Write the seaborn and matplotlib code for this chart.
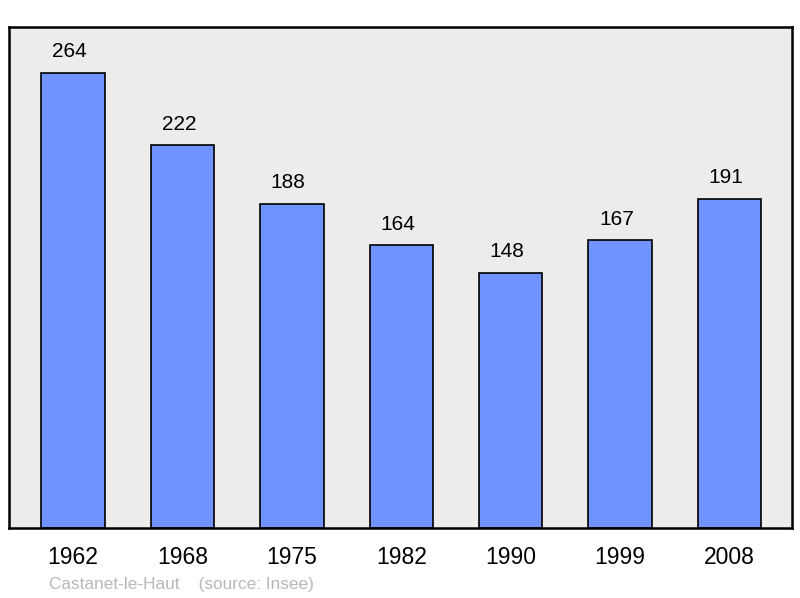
import matplotlib
matplotlib.use("Agg")
import matplotlib.pyplot as plt
import seaborn as sns
import pandas as pd

years = ['1962', '1968', '1975', '1982', '1990', '1999', '2008']
population = [264, 222, 188, 164, 148, 167, 191]

df = pd.DataFrame({'year': years, 'pop': population})

sns.set_style("white")
plt.rcParams['font.family'] = ['Liberation Sans', 'DejaVu Sans']

fig = plt.figure(figsize=(8, 5.98), dpi=100)
ax = fig.add_axes([0.01125, 0.117, 0.979, 0.838])
ax.set_facecolor('#ececec')

sns.barplot(data=df, x='year', y='pop', color='#7093ff', saturation=1,
            edgecolor='black', linewidth=1.2, width=0.58, ax=ax)

# value labels above each bar (sit a little left of centre in the original)
for i, v in enumerate(population):
    ax.text(i - 0.033, v + 12.2, str(v), ha='center', va='center', fontsize=15,
            color='black')

ax.set_xlim(-0.585, 6.572)
ax.set_ylim(0, 290.7)
ax.set_yticks([])
ax.set_xlabel('')
ax.set_ylabel('')
ax.tick_params(axis='x', length=0, pad=13, labelsize=16.5, labelcolor='black')
for s in ax.spines.values():
    s.set_visible(True)
    s.set_color('black')
    s.set_linewidth(1.8)

fig.text(49 / 800, 1 - 584 / 598, 'Castanet-le-Haut    (source: Insee)',
         color='#b8b8b8', fontsize=12.4, va='center', ha='left')

fig.savefig('out.png', dpi=100)
